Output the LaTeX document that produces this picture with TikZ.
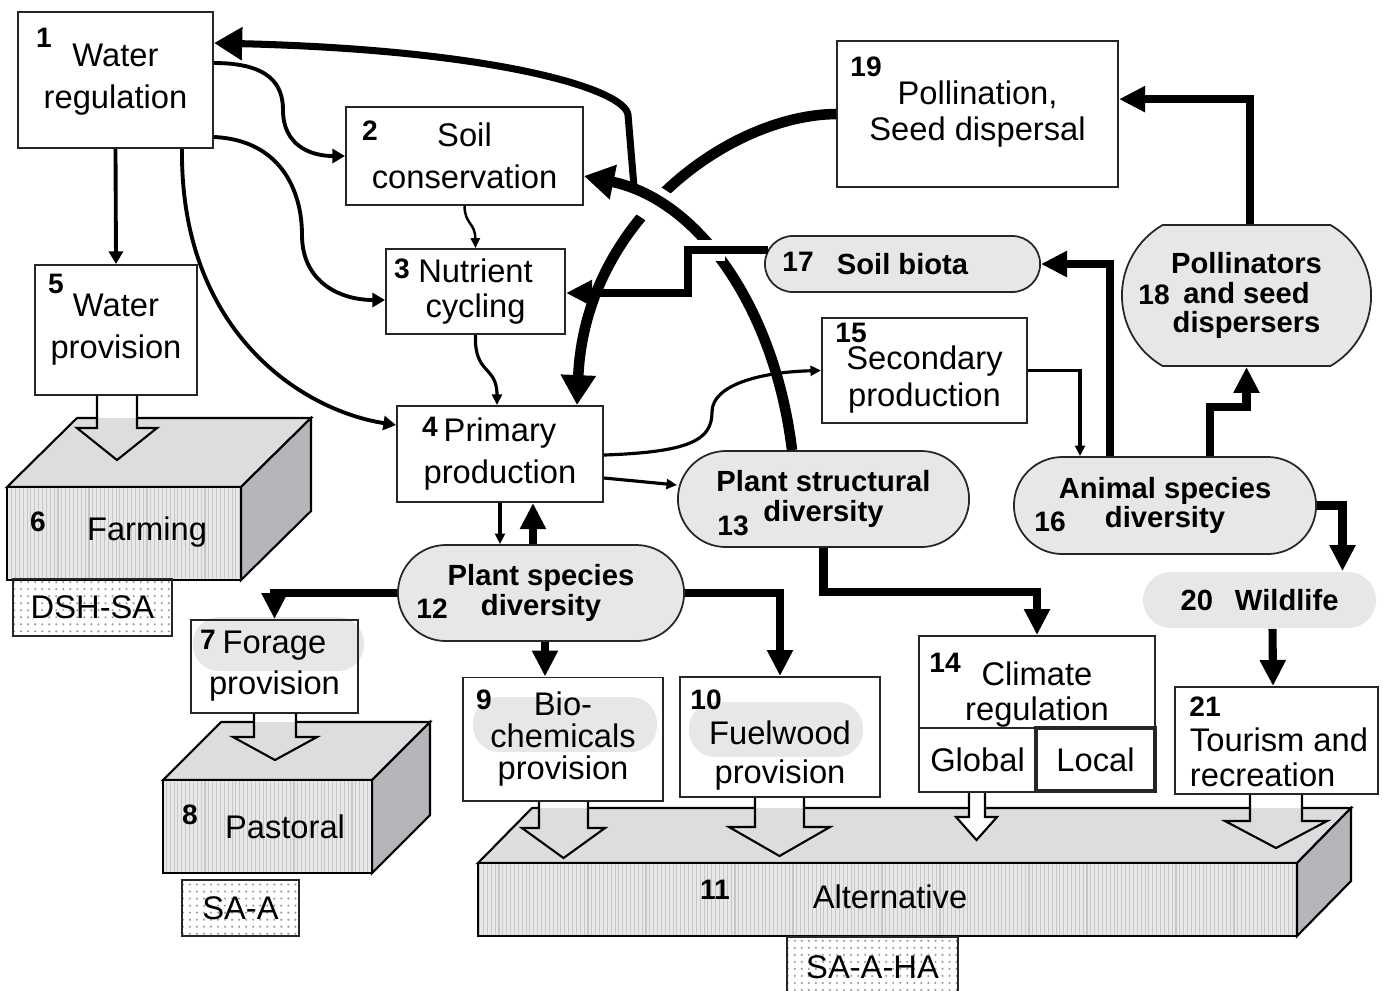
\documentclass[tikz,border=0pt]{standalone}
\usepackage{fontspec}
\setmainfont{Liberation Sans}
\usetikzlibrary{arrows.meta,shapes.misc,patterns.meta,calc}

\definecolor{nodegray}{RGB}{230,231,232}
\definecolor{topgray}{RGB}{220,221,223}
\definecolor{frontgray}{RGB}{232,232,233}
\definecolor{sidegray}{RGB}{181,182,185}

\newcommand{\bxfont}[1]{\fontsize{9.3}{#1}\selectfont}

\tikzstyle{box}=[rectangle,draw=black!85,line width=0.55pt,inner sep=0pt,align=center,font=\bxfont{11.9}]
\tikzstyle{pill}=[rounded rectangle,draw=black!85,line width=0.5pt,fill=nodegray,inner sep=0pt,
align=center,font=\bfseries\fontsize{8.3}{8.3}\selectfont]
\tikzstyle{num}=[inner sep=0pt,font=\bfseries\fontsize{8}{8}\selectfont]
\tikzstyle{txt}=[inner sep=0pt,align=center,font=\bxfont{11.9}]
\tikzstyle{tag}=[rectangle,draw=black!85,line width=0.55pt,inner sep=0pt,
pattern={Dots[distance=2pt,radius=0.35pt]},pattern color=gray!75,font=\bxfont{11.9}]
\tikzstyle{erase}=[draw=white]
\tikzstyle{finearr}=[line width=0.7pt,-{Triangle[length=2.8pt,width=2.6pt]}]
\tikzstyle{slimarr}=[line width=0.9pt,-{Triangle[length=3pt,width=2.8pt]}]
\tikzstyle{midarr}=[line width=1.1pt,-{Triangle[length=3.6pt,width=4pt]}]
\tikzstyle{heavyarr}=[line width=2.3pt,-{Triangle[length=7.4pt,width=7pt]}]
\tikzstyle{hugearr}=[line width=3pt,-{Triangle[length=8.5pt,width=9.5pt]}]
\tikzstyle{brancharr}=[line width=2pt,-{Triangle[length=8pt,width=9pt]}]

% block: front (x1,y1)-(x2,y2), depth (dx,dy)
\newcommand{\slab}[6]{%
  \filldraw[fill=topgray,line width=0.6pt] (#1,#2) -- ++(#5,#6) -- ({#3+#5},{#2+#6}) -- (#3,#2) -- cycle;
  \filldraw[fill=sidegray,line width=0.6pt] (#3,#2) -- ++(#5,#6) -- ++(0,{#4-#2}) -- (#3,#4) -- cycle;
  \fill[frontgray] (#1,#2) rectangle (#3,#4);
  \fill[pattern={Lines[angle=90,distance=1.1pt,line width=0.3pt]},pattern color=gray!45] (#1,#2) rectangle (#3,#4);
  \draw[line width=0.6pt] (#1,#2) rectangle (#3,#4);
}
% wide open arrow: colour, stem xl, xr, y start, y of block edge, head xl, xr, head y, tip y
\newcommand{\hollow}[9]{%
  \fill[#1] (#2,#4) -- (#2,#8) -- (#6,#8) -- ({(#6+#7)/2},#9) -- (#7,#8) -- (#3,#8) -- (#3,#4) -- cycle;
  \fill[white] (#2,#4) rectangle (#3,#5);
  \draw[line width=0.6pt] (#2,#4) -- (#2,#8) -- (#6,#8) -- ({(#6+#7)/2},#9) -- (#7,#8) -- (#3,#8) -- (#3,#4);
}

\begin{document}
\begin{tikzpicture}[x=0.01cm,y=-0.01cm]
\useasboundingbox (0,0) rectangle (1383,990);

% LAND USE BLOCKS
\slab{7}{487}{241}{580}{70}{-69}
\slab{163}{780}{372}{873}{58}{-58}
\slab{478}{863}{1297}{936}{54}{-55}

\node[txt] (f6) at (147,532) {Farming};
\node[txt] (f8) at (285,827) {Pastoral};
\node[txt] (f11) at (890,897) {Alternative};

\node[tag,minimum width=1.59cm,minimum height=0.57cm] (s6) at (92.5,607.5) {DSH-SA};
\node[tag,minimum width=1.17cm,minimum height=0.56cm] (s8) at (240.5,908) {SA-A};
\node[tag,minimum width=1.71cm,minimum height=0.60cm] (s11) at (872.5,967) {SA-A-HA};

\hollow{topgray}{97}{137}{395}{418}{77}{157}{428}{460}
\hollow{topgray}{254}{296}{713}{722}{233}{317}{737}{760}
\hollow{topgray}{539}{588}{801}{808}{522}{605}{828}{858}
\hollow{topgray}{755}{804}{797}{808}{729}{830}{827}{856}
\hollow{topgray}{1250}{1302}{794}{808}{1225}{1327}{821}{848}
\hollow{white}{969}{985}{792}{792}{956}{997}{817}{840}

% shaded text backgrounds
\fill[nodegray,rounded corners=0.26cm] (193,617) rectangle (364,671);
\fill[nodegray,rounded corners=0.26cm] (473,697) rectangle (657,752);
\fill[nodegray,rounded corners=0.26cm] (689,702) rectangle (863,757);

% SERVICES
\node[box,minimum width=1.95cm,minimum height=1.36cm] (b1) at (115.5,80) {Water\\regulation};
\node[box,minimum width=2.37cm,minimum height=0.98cm] (b2) at (464.5,156) {Soil\\conservation};
\node[box,minimum width=1.79cm,minimum height=0.85cm,font=\bxfont{10.2}] (b3) at (475.5,291.5) {Nutrient\\cycling};
\node[box,minimum width=2.06cm,minimum height=0.96cm,font=\bxfont{11.7}] (b4) at (500,454) {Primary\\production};
\node[box,minimum width=1.62cm,minimum height=1.30cm] (b5) at (116,330) {Water\\provision};
\node[box,minimum width=1.67cm,minimum height=0.93cm,font=\bxfont{11.7}] (b7) at (274.5,666.5) {Forage\\provision};
\node[box,minimum width=2.00cm,minimum height=1.23cm,font=\bxfont{9}] (b9) at (563,739) {Bio-\\chemicals\\provision};
\node[box,minimum width=2.00cm,minimum height=1.20cm,
      label={[txt,font=\bxfont{11},yshift=-0.185cm]center:{Fuelwood\\provision}}] (b10) at (780,737) {};
\node[box,minimum width=2.36cm,minimum height=0.92cm,
      label={[txt,font=\bxfont{10},yshift=-0.125cm]center:{Climate\\regulation}}] (b14) at (1037,682) {};
\node[box,minimum width=1.17cm,minimum height=0.64cm] (g14) at (977.5,760) {Global};
\node[box,minimum width=1.19cm,minimum height=0.63cm,line width=1.3pt] (l14) at (1095.5,759.5) {Local};
\node[box,minimum width=2.05cm,minimum height=1.05cm,
      label={[txt,font=\bxfont{10.5},yshift=-0.09cm]center:{Secondary\\production}}] (b15) at (924.5,370.5) {};
\node[box,minimum width=2.81cm,minimum height=1.46cm,font=\bxfont{10.2}] (b19) at (977.5,114) {Pollination,\\Seed dispersal};
\node[box,minimum width=2.03cm,minimum height=1.07cm,
      label={[txt,align=left,font=\bxfont{10},xshift=0.025cm,yshift=-0.17cm]center:{Tourism and\\recreation}}] (b21) at (1276.5,740.5) {};

% DIVERSITY
\node[pill,minimum width=2.86cm,minimum height=0.96cm] (b12) at (541,593) {Plant species\\diversity};
\node[pill,minimum width=2.91cm,minimum height=0.96cm] (b13) at (823.5,499) {Plant structural\\diversity};
\node[pill,minimum width=3.02cm,minimum height=0.97cm] (b16) at (1165,505.5) {Animal species\\diversity};
\node[pill,minimum width=2.75cm,minimum height=0.56cm] (b17) at (902.5,264) {Soil biota};
\node[pill,minimum width=2.49cm,minimum height=1.41cm,rounded rectangle arc length=120] (b18) at (1246.5,295.5) {Pollinators\\and seed\\dispersers};
\node[pill,draw=none,minimum width=2.33cm,minimum height=0.56cm] (b20) at (1259.5,600) {20\hspace{0.22cm}Wildlife};

% numbers
\node[num] (k1) at (44,38) {1};
\node[num] (k2) at (370,131) {2};
\node[num] (k3) at (402,269) {3};
\node[num] (k4) at (430,427) {4};
\node[num] (k5) at (56,284) {5};
\node[num] (k6) at (38,522) {6};
\node[num] (k7) at (208,640) {7};
\node[num] (k8) at (190,815) {8};
\node[num] (k9) at (484,700) {9};
\node[num] (k10) at (706,700) {10};
\node[num] (k11) at (715,890) {11};
\node[num] (k12) at (432,609) {12};
\node[num] (k13) at (733,526) {13};
\node[num] (k14) at (945,663) {14};
\node[num] (k15) at (851,333) {15};
\node[num] (k16) at (1050,522) {16};
\node[num] (k17) at (798,262) {17};
\node[num] (k18) at (1154,295) {18};
\node[num] (k19) at (866,67) {19};
\node[num] (k21) at (1205,707) {21};

% big arcs
\draw[hugearr] (b19.west) .. controls (730,115) and (585,220) .. (b4.north -| 577,0);
\draw[erase,line width=0.36cm] (672,216) -- (643,197);
\draw[hugearr] (b13.north -| 792,0) .. controls (775,310) and (700,200) .. (b2.east |- 0,176);
\coordinate (j13) at (634,187);
\draw[brancharr] (j13) -- (628,115) .. controls (626,90) and (500,50) .. (b1.east |- 0,43);

% soil biota to nutrients
\draw[erase,line width=0.21cm] (689,250) -- (725,250);
\draw[heavyarr] ($(b17.west)+(4,-14)$) -- (688,250) -- (688,293) -- (b3.east |- 0,293);

% animals
\draw[heavyarr] (b16.north -| 1110,0) |- (b17.east);
\draw[heavyarr] (b16.north -| 1210,0) -- (1210,407) -| (b18.south);
\draw[heavyarr] (b18.north -| 1250,0) |- (b19.6);
\draw[slimarr] (b15.east) -| ($(b16.north)+(-85,0)$);
\draw[heavyarr] (b16.east) -| ($(b20.north)+(83,0)$);
\draw[heavyarr] ($(b20.south)+(13,0)$) -- ($(b21.north)+(-3.5,0)$);

% plants
\draw[heavyarr] (b13.south) |- (930,592) -| (b14.north);
\draw[heavyarr] (b12.east) -| (b10.north);
\draw[heavyarr] (b12.south -| 545,0) -- (b9.north -| 545,0);
\draw[heavyarr] (b12.west) -| (b7.north);
\draw[heavyarr] (b12.north -| 533,0) -- (b4.south -| 533,0);
\draw[slimarr] (b4.south) -- (b4.south |- b12.north);
\draw[slimarr] (b4.east |- 0,478) -- (b13.west |- 0,485);
\draw[slimarr] (b4.east |- 0,455) .. controls (690,452) and (712,440) .. (712,412)
    .. controls (712,385) and (760,372) .. (b15.west);

% water
\draw[midarr] (b1.south) -- (b5.north);
\draw[midarr] (b1.east |- 0,63) .. controls (270,63) and (283,85) .. (283,110)
    .. controls (283,145) and (310,156) .. (b2.west);
\draw[midarr] (b1.east |- 0,137) .. controls (280,140) and (302,190) .. (302,235)
    .. controls (302,282) and (340,300) .. (b3.west |- 0,300);
\draw[midarr] (b1.south -| 182,0) .. controls (180,330) and (300,410) .. (b4.west |- 0,425);
\draw[finearr] (b2.south) .. controls (465,225) and (475,222) .. (b3.north);
\draw[slimarr] (b3.south) .. controls (474,375) and (497,365) .. (b4.north -| 497,0);

\end{tikzpicture}
\end{document}
